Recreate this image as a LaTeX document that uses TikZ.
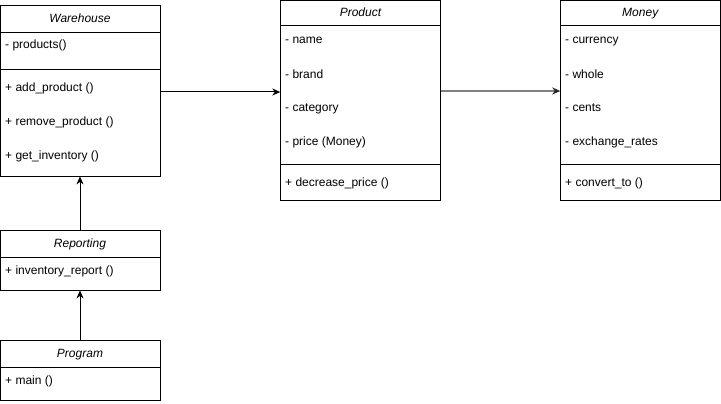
\documentclass[tikz,border=0pt]{standalone}
\usepackage{fontspec}
\setmainfont{Liberation Sans}
\usetikzlibrary{arrows.meta}
\begin{document}
\begin{tikzpicture}[x=1pt,y=-1pt,
  box/.style={draw=black,line width=1pt,fill=white},
  ttl/.style={font=\fontsize{12}{14}\selectfont\itshape,inner sep=0pt,text height=9pt,text depth=3pt},
  itm/.style={font=\fontsize{12}{14}\selectfont,anchor=west,inner sep=0pt,text height=9pt,text depth=3pt},
  conn/.style={line width=1pt,-{Stealth[length=8pt,width=7pt,inset=2.5pt]}},
  grayconn/.style={line width=1.3pt,draw=gray,-{Stealth[length=8pt,width=7pt,inset=2.5pt,color=black!85]}}]
\useasboundingbox (0,0) rectangle (721,404);
% Warehouse
\draw[box] (0.5,6) rectangle (160,176);
\draw[line width=1pt] (0.5,33) -- (160,33);
\draw[line width=1pt] (0.5,70) -- (160,70);
\node (wh) at (80,6) [minimum width=159.5pt,minimum height=170pt,anchor=north,inner sep=0pt] {};
\node[ttl] at (80,20) {Warehouse};
\node[itm] at (5,46) {- products()};
\node[itm] at (5,88.5) {+ add\_product ()};
\node[itm] at (5,122.5) {+ remove\_product ()};
\node[itm] at (5,156.5) {+ get\_inventory ()};
% Product
\draw[box] (280.5,0.5) rectangle (440.5,200);
\draw[line width=1pt] (280.5,26) -- (440.5,26);
\draw[line width=1pt] (280.5,164) -- (440.5,164);
\node (pr) at (360.5,0.5) [minimum width=160pt,minimum height=199.5pt,anchor=north,inner sep=0pt] {};
\node[ttl] at (360.5,14) {Product};
\node[itm] at (285,41) {- name};
\node[itm] at (285,75) {- brand};
\node[itm] at (285,109) {- category};
\node[itm] at (285,143) {- price (Money)};
\node[itm] at (285,183) {+ decrease\_price ()};
% Money
\draw[box] (560.5,0.5) rectangle (720,200);
\draw[line width=1pt] (560.5,26) -- (720,26);
\draw[line width=1pt] (560.5,164) -- (720,164);
\node (mo) at (640.25,0.5) [minimum width=159.5pt,minimum height=199.5pt,anchor=north,inner sep=0pt] {};
\node[ttl] at (640.25,14) {Money};
\node[itm] at (565,41) {- currency};
\node[itm] at (565,75) {- whole};
\node[itm] at (565,109) {- cents};
\node[itm] at (565,143) {- exchange\_rates};
\node[itm] at (565,183) {+ convert\_to ()};
% Reporting
\draw[box] (0.5,230.5) rectangle (160,290);
\draw[line width=1pt] (0.5,257) -- (160,257);
\node (re) at (80,230.5) [minimum width=159.5pt,minimum height=59.5pt,anchor=north,inner sep=0pt] {};
\node[ttl] at (80,244) {Reporting};
\node[itm] at (5,271) {+ inventory\_report ()};
% Program
\draw[box] (0.5,340.5) rectangle (160,400);
\draw[line width=1pt] (0.5,367) -- (160,367);
\node (pg) at (80,340.5) [minimum width=159.5pt,minimum height=59.5pt,anchor=north,inner sep=0pt] {};
\node[ttl] at (80,354) {Program};
\node[itm] at (5,381) {+ main ()};
% connectors
\draw[conn] (wh.east |- 0,92) -- (pr.west |- 0,92);
\draw[grayconn] (pr.east |- 0,91) -- (mo.west |- 0,91);
\draw[conn] (re.north) -- (wh.south);
\draw[conn] (pg.north) -- (re.south);
\end{tikzpicture}
\end{document}
